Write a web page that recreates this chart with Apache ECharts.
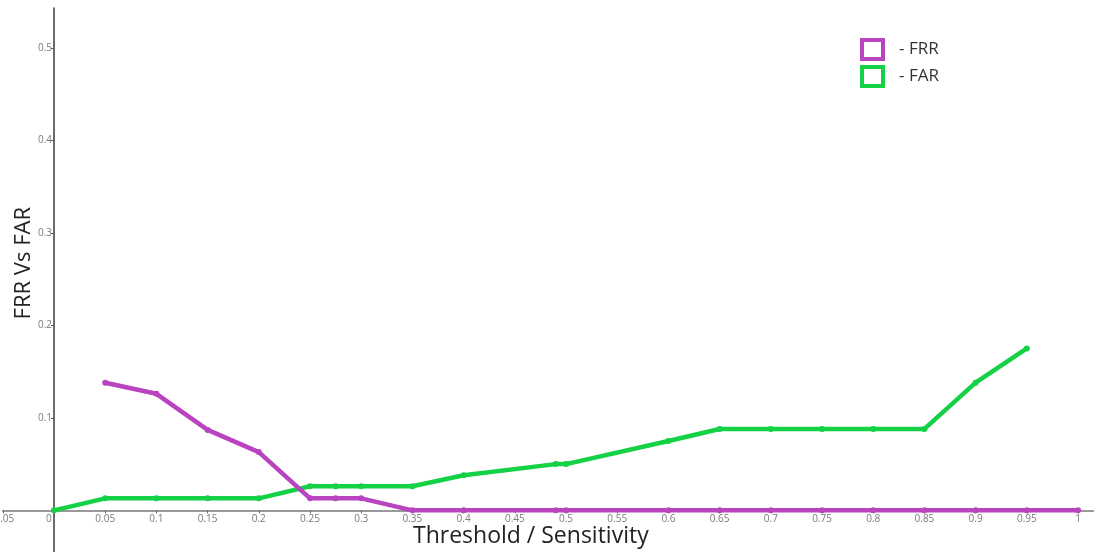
<!DOCTYPE html>
<html>
<head>
<meta charset="utf-8">
<script src="https://cdn.jsdelivr.net/npm/echarts@6/dist/echarts.min.js"></script>
<style>
html,body{margin:0;padding:0;background:#fff;}
#chart{width:1094px;height:552px;}
</style>
</head>
<body>
<div id="chart"></div>
<script>
// Data
const frrX = [0.05, 0.1, 0.15, 0.2, 0.25, 0.275, 0.3, 0.35, 0.4, 0.49, 0.5, 0.6, 0.65, 0.7, 0.75, 0.8, 0.85, 0.9, 0.95, 1];
const frrY = [0.138, 0.126, 0.087, 0.063, 0.013, 0.013, 0.013, 0, 0, 0, 0, 0, 0, 0, 0, 0, 0, 0, 0, 0];
const farX = [0, 0.05, 0.1, 0.15, 0.2, 0.25, 0.275, 0.3, 0.35, 0.4, 0.49, 0.5, 0.6, 0.65, 0.7, 0.75, 0.8, 0.85, 0.9, 0.95];
const farY = [0, 0.013, 0.013, 0.013, 0.013, 0.026, 0.026, 0.026, 0.026, 0.038, 0.05, 0.05, 0.075, 0.088, 0.088, 0.088, 0.088, 0.088, 0.138, 0.175];
const xTicks = [-0.05, 0, 0.05, 0.1, 0.15, 0.2, 0.25, 0.3, 0.35, 0.4, 0.45, 0.5, 0.55, 0.6, 0.65, 0.7, 0.75, 0.8, 0.85, 0.9, 0.95, 1];
const yTicks = [0.1, 0.2, 0.3, 0.4, 0.5];
const seriesNames = ['FRR', 'FAR'];
const xTitle = 'Threshold / Sensitivity';
const yTitle = 'FRR Vs FAR';

const purple = '#b944c0';
const green = '#14d146';
const font = '"Open Sans", "Noto Sans", sans-serif';

const chart = echarts.init(document.getElementById('chart'), null, {renderer: 'canvas'});
const zip = (xs, ys) => xs.map((x, i) => [x, ys[i]]);

chart.setOption({
  backgroundColor: '#ffffff',
  animation: false,
  grid: {left: 2.8, top: 8, width: 1090.6, height: 544, containLabel: false, outerBoundsMode: 'none'},
  xAxis: {
    type: 'value', min: -0.05, max: 1.015,
    offset: -41.6,
    splitLine: {show: false},
    axisLine: {onZero: false, lineStyle: {color: '#9a9a9a', width: 2}},
    axisTick: {show: true, customValues: xTicks, length: 3, lineStyle: {color: '#666'}},
    axisLabel: {
      customValues: xTicks, margin: 4, fontSize: 10, color: '#7a7a7a', fontFamily: font,
      formatter: v => (Math.abs(v) < 1e-9 ? '0    ' : String(+v.toFixed(2)))
    }
  },
  yAxis: {
    type: 'value', min: -0.045, max: 0.543,
    offset: -51.2,
    splitLine: {show: false},
    axisLine: {onZero: false, lineStyle: {color: '#3a3a3a', width: 1.5}},
    axisTick: {show: true, customValues: yTicks, length: 3, lineStyle: {color: '#555'}},
    axisLabel: {customValues: yTicks, margin: 2, fontSize: 10, color: '#7a7a7a', fontFamily: font,
      formatter: v => String(+v.toFixed(2))}
  },
  legend: {
    orient: 'vertical', left: 855, top: 33, itemWidth: 21, itemHeight: 19, itemGap: 4,
    icon: 'rect',
    textStyle: {fontSize: 17, color: '#333', fontFamily: font, padding: [0, 0, 0, 11]},
    formatter: n => '- ' + n,
    data: [
      {name: seriesNames[0], itemStyle: {color: '#fff', borderColor: purple, borderWidth: 4}},
      {name: seriesNames[1], itemStyle: {color: '#fff', borderColor: green, borderWidth: 4}}
    ]
  },
  graphic: [
    {type: 'text', left: 413, top: 525, style: {text: xTitle, fontSize: 23, fill: '#222', fontFamily: font}},
    {type: 'text', rotation: Math.PI / 2, left: 13, top: 207, style: {text: yTitle, fontSize: 22, fill: '#222', fontFamily: font}}
  ],
  series: [
    {
      name: seriesNames[0], type: 'line', data: zip(frrX, frrY),
      color: purple, symbol: 'circle', symbolSize: 6,
      lineStyle: {width: 4.5, color: purple}, itemStyle: {color: purple}, z: 3
    },
    {
      name: seriesNames[1], type: 'line', data: zip(farX, farY),
      color: green, symbol: 'circle', symbolSize: 6,
      lineStyle: {width: 4.5, color: green}, itemStyle: {color: green}, z: 2
    }
  ]
});
</script>
</body>
</html>
